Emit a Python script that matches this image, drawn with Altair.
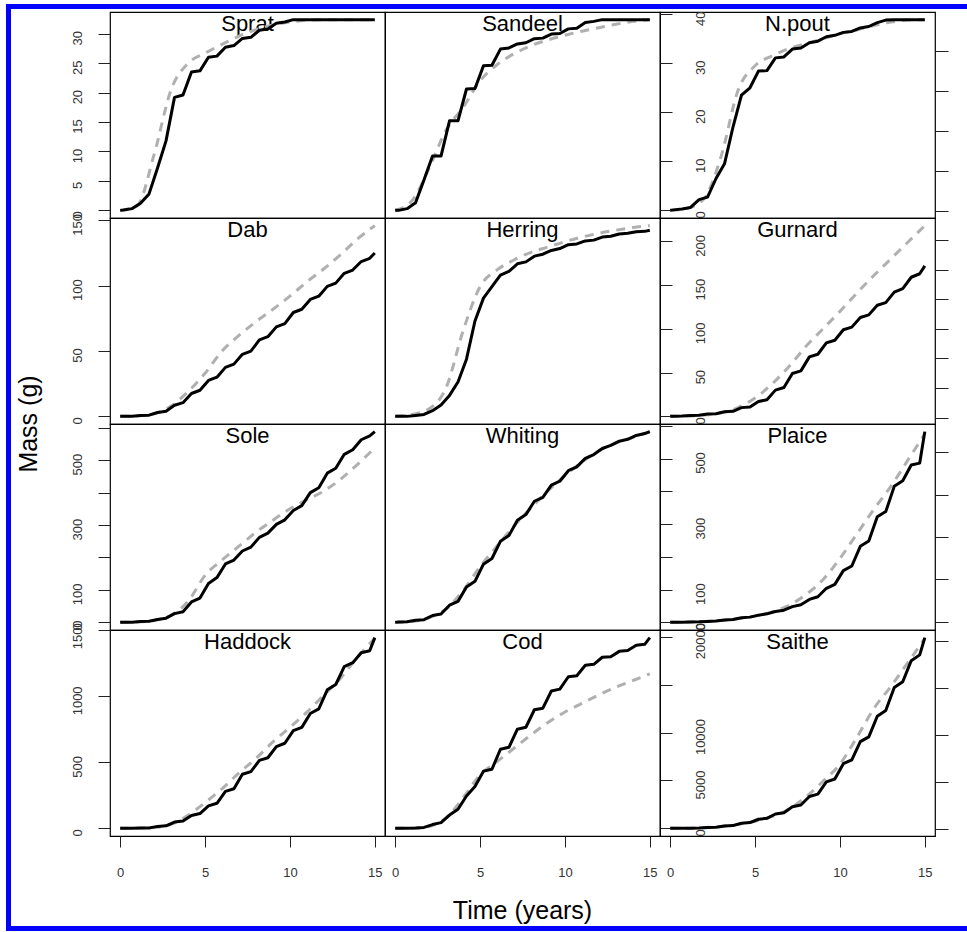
import altair as alt
import pandas as pd

FONT = "Liberation Sans"
BLUE = "#0000ff"
W, H = 275, 206

SPECIES = ["Sprat", "Sandeel", "N.pout", "Dab", "Herring", "Gurnard",
           "Sole", "Whiting", "Plaice", "Haddock", "Cod", "Saithe"]

T_SOLID = [0, 0.2, 0.7, 1.2, 1.7, 2.2, 2.7, 3.2, 3.7, 4.2, 4.7, 5.2, 5.7, 6.2, 6.7,
           7.2, 7.7, 8.2, 8.7, 9.2, 9.7, 10.2, 10.7, 11.2, 11.7, 12.2, 12.7, 13.2,
           13.7, 14.2, 14.7, 15]
T_DASH = [0, 1, 2, 3, 4, 5, 6, 7, 8, 9, 10, 11, 12, 13, 14, 15]

SPRAT_SOLID = [0, 0.05, 0.3, 1.2, 2.8, 7.2, 11.8, 19.2, 19.6, 23.5, 23.7, 26.0, 26.2, 27.7, 28.0,
               29.2, 29.4, 30.6, 30.8, 31.8, 32.0, 32.4, 32.4, 32.4, 32.4, 32.4, 32.4, 32.4,
               32.4, 32.4, 32.4, 32.4]
SPRAT_DASH = [0, 0.8, 9.5, 20.5, 25.0, 26.7, 28.2, 29.6, 30.7, 31.5, 32.0, 32.3, 32.4, 32.4, 32.4, 32.4]

SANDEEL_SOLID = [0, 0, 0.3, 1.3, 5.3, 9.4, 9.4, 15.5, 15.5, 21.0, 21.1, 25.0, 25.1, 27.9, 28.1,
                 28.8, 29.0, 29.7, 29.8, 30.5, 30.6, 31.4, 31.5, 32.5, 32.7, 33, 33, 33, 33, 33, 33, 33]
SANDEEL_DASH = [0, 1.7, 7.3, 13.9, 17.8, 22.4, 25.2, 27.1, 28.5, 29.5, 30.3, 31.0, 31.6, 32.2, 32.7, 33.0]

NPOUT_SOLID = [0, 0.1, 0.3, 0.6, 2.2, 2.7, 6.5, 9.5, 17, 23.5, 25, 28.4, 28.5, 31.1, 31.3,
               32.9, 33.1, 34.2, 34.5, 35.4, 35.7, 36.3, 36.5, 37.2, 37.5, 38.3, 38.8, 38.9,
               38.9, 38.9, 38.9, 38.9]
NPOUT_DASH = [0, 0.4, 2.4, 11, 24.5, 29.5, 31.5, 33, 34, 35, 36, 36.8, 37.7, 38.4, 38.8, 38.9]

DAB_SOLID = [0, 0.05, 0.1, 0.6, 0.9, 3, 4, 8.5, 10.5, 17.5, 20, 27.5, 30, 37.5, 40, 47.5, 50,
             58.5, 61, 68.5, 71, 79.5, 82, 89.5, 92, 99.5, 102, 109.5, 112, 118.5, 121, 125]
DAB_DASH = [0, 0.3, 2, 8, 19, 33, 50, 62, 72.5, 82, 92, 103, 113, 124, 136, 146]

HERRING_SOLID = [0, 0, 0, 1.2, 2.5, 7.5, 15, 27.5, 45, 75, 125, 155, 170, 185, 190, 200, 202.5,
                 210, 212.5, 217.5, 220, 225, 226, 230, 231, 235, 236, 239, 240, 242, 242.5, 244]
HERRING_DASH = [0, 2.5, 10, 37.5, 112, 170, 192, 205, 215, 222, 229, 235, 240, 244, 247.5, 250]

GURNARD_SOLID = [0, 0.2, 0.3, 1.0, 1.2, 2.6, 3.0, 5.2, 5.8, 10, 10.8, 17, 19, 30, 33, 49, 52,
                 68, 71, 84, 87, 99, 102, 113, 116, 127, 130, 142, 146, 159, 163, 172]
GURNARD_DASH = [0, 0.3, 1.5, 4, 10, 21, 37, 57, 80, 100, 120, 141, 161, 180, 199, 218]

SOLE_SOLID = [0, 0.3, 0.6, 2.5, 3.5, 9, 13, 27, 33, 63, 75, 120, 138, 180, 192, 220, 232, 262,
              275, 302, 316, 345, 360, 400, 415, 460, 475, 518, 532, 563, 575, 588]
SOLE_DASH = [0, 1, 6, 22, 65, 145, 192, 235, 278, 315, 350, 378, 405, 442, 488, 538]

WHITING_SOLID = [0, 1.2, 1.8, 6.6, 8.4, 21.6, 26.4, 54, 66, 111, 129, 183, 201, 255, 273, 321,
                 339, 381, 393, 432, 444, 477, 489, 516, 528, 547, 557, 570, 576, 588, 594, 600]
WHITING_DASH = [0, 3, 15, 42, 100, 175, 240, 303, 360, 414, 462, 504, 540, 564, 582, 600]

PLAICE_SOLID = [0, 0.3, 0.7, 1.3, 1.7, 3, 4, 7, 9, 14, 16, 22, 26, 33, 37, 48, 54, 70, 78, 104,
                116, 158, 172, 232, 248, 322, 338, 415, 432, 480, 486, 582]
PLAICE_DASH = [0, 1, 3, 6, 11, 19, 32, 52, 85, 130, 195, 270, 345, 415, 495, 575]

HADDOCK_SOLID = [0, 0.3, 0.7, 2.5, 3.5, 15, 19, 48, 56, 98, 112, 170, 190, 280, 300, 410, 430,
                 515, 535, 620, 645, 740, 765, 870, 905, 1050, 1090, 1225, 1255, 1330, 1345, 1445]
HADDOCK_DASH = [0, 1, 6, 30, 100, 195, 300, 420, 530, 655, 765, 880, 1010, 1140, 1300, 1440]

COD_SOLID = [0, 0, 0, 16, 40, 160, 240, 560, 800, 1360, 1760, 2400, 2480, 3320, 3400, 4160, 4240,
             4976, 5040, 5760, 5840, 6360, 6400, 6840, 6880, 7176, 7200, 7424, 7456, 7680, 7720, 8000]
COD_DASH = [0, 0, 80, 440, 1280, 2240, 2800, 3360, 3920, 4440, 4880, 5240, 5600, 5920, 6200, 6480]

SAITHE_SOLID = [0, 4, 8, 25, 35, 90, 110, 250, 290, 540, 600, 950, 1050, 1500, 1640, 2260, 2440,
                3330, 3570, 4850, 5150, 6750, 7150, 9050, 9550, 11700, 12300, 14700, 15300,
                17500, 18100, 19900]
SAITHE_DASH = [0, 20, 80, 200, 420, 750, 1250, 2000, 3300, 4900, 6700, 9500, 12500, 14800, 17300, 19800]

SOLID = [SPRAT_SOLID, SANDEEL_SOLID, NPOUT_SOLID, DAB_SOLID, HERRING_SOLID, GURNARD_SOLID,
         SOLE_SOLID, WHITING_SOLID, PLAICE_SOLID, HADDOCK_SOLID, COD_SOLID, SAITHE_SOLID]
DASH = [SPRAT_DASH, SANDEEL_DASH, NPOUT_DASH, DAB_DASH, HERRING_DASH, GURNARD_DASH,
        SOLE_DASH, WHITING_DASH, PLAICE_DASH, HADDOCK_DASH, COD_DASH, SAITHE_DASH]

X_TICKS = [0, 5, 10, 15]
Y_TICKS = {
    "Sprat": [0, 5, 10, 15, 20, 25, 30],
    "N.pout": [0, 10, 20, 30, 40],
    "Dab": [0, 50, 100, 150],
    "Gurnard": [0, 50, 100, 150, 200],
    "Sole": [0, 100, 200, 300, 400, 500, 600],
    "Plaice": [0, 100, 200, 300, 400, 500, 600],
    "Haddock": [0, 500, 1000, 1500],
    "Saithe": [0, 5000, 10000, 15000, 20000],
}
Y_LABELS = {
    "Sprat": [0, 5, 10, 15, 20, 25, 30],
    "N.pout": [0, 10, 20, 30, 40],
    "Dab": [0, 50, 100, 150],
    "Gurnard": [0, 50, 100, 150, 200],
    "Sole": [0, 100, 300, 500],
    "Plaice": [0, 100, 300, 500],
    "Haddock": [0, 500, 1000, 1500],
    "Saithe": [0, 5000, 10000, 20000],
}
RIGHT_TICKS = [[0, 20, 40, 60, 80], [0, 50, 100, 150, 200, 250, 300],
               [0, 100, 200, 300, 400], [0, 500, 1000, 1500, 2000]]
RIGHT_DOMAIN = [[-3.5, 99.5], [-11, 338], [-19, 466], [-75, 2117]]

X_TITLE = "Time (years)"
Y_TITLE = "Mass (g)"

LABEL_COLOR = "#333333"
TICK_COLOR = "#222222"

# page layout (pixels): column widths and row heights of the grid of cells
BAND = 5
COL_W = [104, W, W, W, 32]
ROW_H = [5, 3, H, H, H, H, 90, 5]

NO_VIEW = alt.ViewBackground(stroke="transparent", strokeWidth=0)


def label_expr(vals):
    return "indexof([" + ",".join(str(v) for v in vals) + "], datum.value) >= 0 ? datum.label : ''"


def panel(i):
    name = SPECIES[i]
    row, col = divmod(i, 3)
    solid, dash = SOLID[i], DASH[i]
    lo, hi = min(solid + dash), max(solid + dash)
    pad = 0.04 * (hi - lo)
    ysc = alt.Scale(domain=[lo - pad, hi + pad], nice=False, zero=False)
    xsc = alt.Scale(domain=[-0.6, 15.6], nice=False, zero=False)

    if row == 3:
        xax = alt.Axis(values=X_TICKS, tickSize=11, labelPadding=19, domain=False, grid=False,
                       labelFontSize=13, labelFont=FONT, labelColor=LABEL_COLOR,
                       tickColor=TICK_COLOR, labelAngle=0, labelFlush=False, labelOverlap=False)
    else:
        xax = None

    common = dict(values=Y_TICKS.get(name, [0]), labelExpr=label_expr(Y_LABELS.get(name, [])),
                  tickSize=12, labelAngle=270, labelAlign="center", labelOffset=4,
                  domain=False, grid=False, format="d", labelFontSize=13, labelFont=FONT,
                  labelColor=LABEL_COLOR, tickColor=TICK_COLOR, labelFlush=False,
                  labelOverlap=False)
    if col == 0:
        yax = alt.Axis(orient="left", labelPadding=14, labelBaseline="bottom", **common)
    elif col == 2:
        yax = alt.Axis(orient="right", offset=-W, labelPadding=22, labelBaseline="top", **common)
    else:
        yax = None

    X = alt.X("t:Q", scale=xsc, axis=xax, title=None)
    Y = alt.Y("v:Q", scale=ysc, axis=yax, title=None)

    label = alt.Chart(pd.DataFrame({"name": [name]})).mark_text(
        font=FONT, fontSize=22, align="center", baseline="alphabetic", color="black"
    ).encode(text="name:N", x=alt.value(W / 2), y=alt.value(19))

    dash_l = alt.Chart(pd.DataFrame({"t": T_DASH, "v": dash})).mark_line(
        color="#b0b0b0", strokeWidth=3, strokeDash=[9, 7], interpolate="monotone"
    ).encode(x=X, y=Y)

    solid_l = alt.Chart(pd.DataFrame({"t": T_SOLID, "v": solid})).mark_line(
        color="black", strokeWidth=3, strokeJoin="round"
    ).encode(x=X, y=Y)

    main = alt.layer(label, dash_l, solid_l)
    if col == 2:
        aux = alt.Chart(pd.DataFrame({"r": RIGHT_TICKS[row]})).mark_point(
            opacity=0, size=0, strokeWidth=0
        ).encode(
            y=alt.Y("r:Q", title=None,
                    scale=alt.Scale(domain=RIGHT_DOMAIN[row], nice=False, zero=False),
                    axis=alt.Axis(orient="right", values=RIGHT_TICKS[row], tickSize=13,
                                  labels=False, domain=False, grid=False, tickColor=TICK_COLOR))
        )
        main = alt.layer(main, aux).resolve_scale(y="independent")
    return main.properties(width=W, height=H,
                           view=alt.ViewBackground(stroke="black", strokeWidth=1.2))


def blank(w, h):
    return alt.Chart(pd.DataFrame({"k": [0]})).mark_point(
        opacity=0, size=0, strokeWidth=0
    ).encode(x=alt.value(1), y=alt.value(1)).properties(width=w, height=h, view=NO_VIEW)


def band_rect(x1, x2, h):
    # blue frame piece
    return alt.Chart(pd.DataFrame({"k": [0]})).mark_rect(color=BLUE, strokeWidth=0).encode(
        x=alt.value(x1), x2=alt.value(x2), y=alt.value(0), y2=alt.value(h))


def text_mark(text, x, y, angle=0):
    return alt.Chart(pd.DataFrame({"label": [text]})).mark_text(
        font=FONT, fontSize=25, align="center",
        baseline="middle" if angle else "alphabetic", angle=angle, color="black"
    ).encode(text="label:N", x=alt.value(x), y=alt.value(y))


last = len(COL_W) - 1
cells = []
for r, h in enumerate(ROW_H):
    for c, w in enumerate(COL_W):
        if r == 0 or r == len(ROW_H) - 1:
            if c == last:
                cells.append(blank(w, h))
            else:
                x2 = w + COL_W[last] if c == last - 1 else w
                cells.append(band_rect(0, x2, h).properties(width=w, height=h, view=NO_VIEW))
        elif c == 0:
            parts = [band_rect(0, BAND, h)]
            if r == 3:
                parts.append(text_mark(Y_TITLE, BAND + 18, h, angle=270))
            cells.append(alt.layer(*parts).properties(width=w, height=h, view=NO_VIEW))
        elif 2 <= r <= 5 and 1 <= c <= 3:
            cells.append(panel((r - 2) * 3 + (c - 1)))
        elif r == 6 and c == 2:
            cells.append(text_mark(X_TITLE, 137.5, 83).properties(width=w, height=h, view=NO_VIEW))
        else:
            cells.append(blank(w, h))

chart = alt.concat(
    *cells, columns=len(COL_W), spacing=0, bounds="flush", align="each"
).properties(
    padding={"left": 6, "top": 4, "right": 0, "bottom": 1}, background="white"
).configure_view(strokeWidth=0)

chart.save("out.html", embed_options={"renderer": "svg", "actions": False})
